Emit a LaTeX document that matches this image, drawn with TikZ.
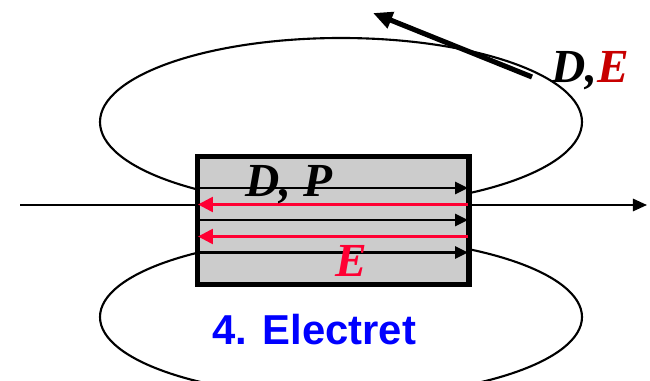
\documentclass[tikz,border=0pt]{standalone}
\usepackage{fontspec}
\setmainfont{Liberation Serif}
\setsansfont{Liberation Sans}
\usetikzlibrary{arrows.meta}
\definecolor{fieldred}{RGB}{255,0,51}
\definecolor{darkred}{RGB}{200,0,0}
\definecolor{boxgray}{RGB}{204,204,204}
\definecolor{labelblue}{RGB}{0,0,255}
\begin{document}
\begin{tikzpicture}[x=0.02cm,y=-0.02cm,
  fieldline/.style={line width=1.2pt},
  blackarrow/.style={line width=1.2pt,-{Triangle[length=7.4pt,width=7pt]}},
  redarrow/.style={line width=1.5pt,draw=fieldred,-{Triangle[length=8.5pt,width=8.5pt]}},
  bigarrow/.style={line width=2.9pt,-{Triangle[length=11pt,width=9.5pt]}},
  slabstyle/.style={draw,line width=2.9pt,fill=boxgray,minimum width=5.43cm,minimum height=2.56cm,inner sep=0pt,outer sep=0pt},
  mathlabel/.style={font=\fontsize{27}{32}\selectfont\bfseries\itshape,inner sep=0pt,anchor=base west}]
\useasboundingbox (0,0) rectangle (650,381);
\clip (0,0) rectangle (650,381);
% field loops
\draw[fieldline] (341,122) ellipse [x radius=241, y radius=84];
\draw[fieldline] (341,317) ellipse [x radius=241, y radius=80];
% axis
\coordinate (axL) at (20,205);
\coordinate (axR) at (647,205);
\draw[line width=1.2pt,-{Triangle[length=8pt,width=7pt]}] (axL) -- (axR);
% electret slab
\node[slabstyle] (slab) at (333.25,220.5) {};
\coordinate (sl1) at (198,188); \coordinate (sr1) at (468,188);
\coordinate (sl2) at (198,204.5); \coordinate (sr2) at (468,204.5);
\coordinate (sl3) at (198,220); \coordinate (sr3) at (468,220);
\coordinate (sl4) at (198,236.5); \coordinate (sr4) at (468,236.5);
\coordinate (sl5) at (198,252.5); \coordinate (sr5) at (468,252.5);
\draw[blackarrow] (sl1) -- (sr1);
\draw[redarrow] (sr2) -- (sl2);
\draw[blackarrow] (sl3) -- (sr3);
\draw[redarrow] (sr4) -- (sl4);
\draw[blackarrow] (sl5) -- (sr5);
% labels
\node[mathlabel] (dp) at (245,197) {D, P};
\node[mathlabel,text=fieldred] (e) at (335,277) {E};
\node[mathlabel] (de) at (551,83) {D,\textcolor{darkred}{E}};
\node[font=\fontsize{23.8}{28}\selectfont\sffamily\bfseries,text=labelblue,inner sep=0pt,anchor=base west] (title) at (212,345) {4. Electret};
% outside field arrow
\coordinate (dtail) at (532,77);
\coordinate (dtip) at (373,13);
\draw[bigarrow] (dtail) -- (dtip);
\end{tikzpicture}
\end{document}
